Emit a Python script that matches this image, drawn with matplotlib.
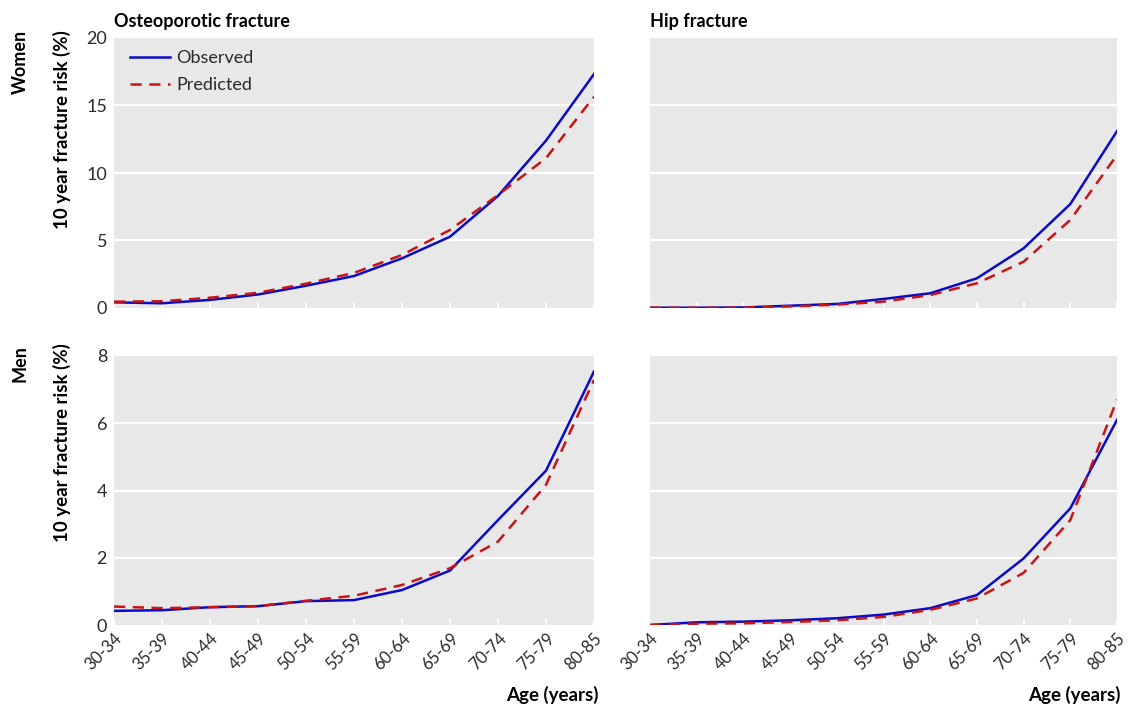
import matplotlib
matplotlib.use("Agg")
import matplotlib.pyplot as plt

ages = ["30-34", "35-39", "40-44", "45-49", "50-54", "55-59",
        "60-64", "65-69", "70-74", "75-79", "80-85"]

women_osteo_obs = [0.42, 0.35, 0.6, 1.0, 1.65, 2.37, 3.68, 5.28, 8.3, 12.4, 17.33]
women_osteo_pred = [0.47, 0.5, 0.76, 1.13, 1.8, 2.6, 3.93, 5.78, 8.37, 11.1, 15.65]
women_hip_obs = [0.02, 0.02, 0.04, 0.17, 0.3, 0.67, 1.09, 2.2, 4.42, 7.7, 13.1]
women_hip_pred = [0.02, 0.02, 0.03, 0.12, 0.25, 0.47, 0.96, 1.83, 3.43, 6.52, 11.33]
men_osteo_obs = [0.42, 0.44, 0.53, 0.56, 0.71, 0.74, 1.04, 1.62, 3.12, 4.59, 7.54]
men_osteo_pred = [0.55, 0.5, 0.53, 0.56, 0.72, 0.87, 1.19, 1.69, 2.48, 4.17, 7.29]
men_hip_obs = [0.0, 0.08, 0.1, 0.14, 0.2, 0.31, 0.5, 0.89, 1.98, 3.47, 6.1]
men_hip_pred = [0.0, 0.04, 0.05, 0.09, 0.14, 0.24, 0.45, 0.79, 1.55, 3.12, 6.7]

women_yticks = [0, 5, 10, 15, 20]
men_yticks = [0, 2, 4, 6, 8]

col_titles = ["Osteoporotic fracture", "Hip fracture"]
row_labels = ["Women", "Men"]
ylabel = "10 year fracture risk (%)"
xlabel = "Age (years)"

W, H = 1139, 706
fig = plt.figure(figsize=(W / 100, H / 100), dpi=100)
plt.rcParams['font.family'] = ['Lato', 'DejaVu Sans']

BLUE = "#0a0ac8"
RED = "#c81414"
BG = "#e8e8e8"
TXT = "#2a2a2a"
BOLD = "bold"

def px_axes(x0, y0, x1, y1):
    return fig.add_axes([x0 / W, 1 - y1 / H, (x1 - x0) / W, (y1 - y0) / H])

panels = [
    (px_axes(114, 38, 594, 308), women_osteo_obs, women_osteo_pred, women_yticks, True, False),
    (px_axes(650, 38, 1117, 308), women_hip_obs, women_hip_pred, women_yticks, False, False),
    (px_axes(114, 356, 594, 625), men_osteo_obs, men_osteo_pred, men_yticks, True, True),
    (px_axes(650, 356, 1117, 625), men_hip_obs, men_hip_pred, men_yticks, False, True),
]

x = list(range(len(ages)))
for i, (ax, obs, pred, yt, showy, showx) in enumerate(panels):
    ax.set_facecolor(BG)
    for s in ax.spines.values():
        s.set_visible(False)
    ax.set_xlim(0, len(ages) - 1)
    ax.set_ylim(yt[0], yt[-1])
    ax.set_yticks(yt)
    for v in yt[1:-1]:
        ax.axhline(v, color="white", lw=1.6, zorder=1)
    ax.plot(x, obs, color=BLUE, lw=1.8, zorder=3, label="Observed")
    ax.plot(x, pred, color=RED, lw=1.8, ls=(0, (4.5, 3)), zorder=3, label="Predicted")
    ax.set_xticks(x)
    ax.tick_params(axis="x", direction="in", length=4, width=1.2, color="white")
    ax.tick_params(axis="y", length=0, pad=5)
    if showx:
        ax.set_xticklabels(ages, rotation=45, ha="right", rotation_mode="anchor",
                           fontsize=12, color=TXT)
        ax.tick_params(axis="x", pad=4)
    else:
        ax.set_xticklabels([])
    if showy:
        ax.set_yticklabels([str(v) for v in yt], fontsize=13, color=TXT)
    else:
        ax.set_yticklabels([])
    if i == 0:
        leg = ax.legend(loc="upper left", frameon=False,
                        prop={"size": 13},
                        handlelength=2.2, handletextpad=0.35,
                        bbox_to_anchor=(0.0, 1.015), labelspacing=0.6)
        for t in leg.get_texts():
            t.set_color(TXT)

# column titles
fig.text(114 / W, 1 - 21 / H, col_titles[0], fontsize=13, fontweight=BOLD,
         ha="left", va="center")
fig.text(650 / W, 1 - 21 / H, col_titles[1], fontsize=13, fontweight=BOLD,
         ha="left", va="center")

# row labels and y labels
fig.text(20 / W, 1 - 30 / H, row_labels[0], rotation=90, fontsize=13,
         fontweight=BOLD, ha="center", va="top")
fig.text(20 / W, 1 - 345 / H, row_labels[1], rotation=90, fontsize=13,
         fontweight=BOLD, ha="center", va="top")
fig.text(62 / W, 1 - 30 / H, ylabel, rotation=90, fontsize=13.5,
         fontweight=BOLD, ha="center", va="top")
fig.text(62 / W, 1 - 343 / H, ylabel, rotation=90, fontsize=13.5,
         fontweight=BOLD, ha="center", va="top")

# x labels
fig.text(599 / W, 1 - 695 / H, xlabel, fontsize=13.5, fontweight=BOLD,
         ha="right", va="center")
fig.text(1121 / W, 1 - 695 / H, xlabel, fontsize=13.5, fontweight=BOLD,
         ha="right", va="center")

fig.savefig("out.png", dpi=100)
